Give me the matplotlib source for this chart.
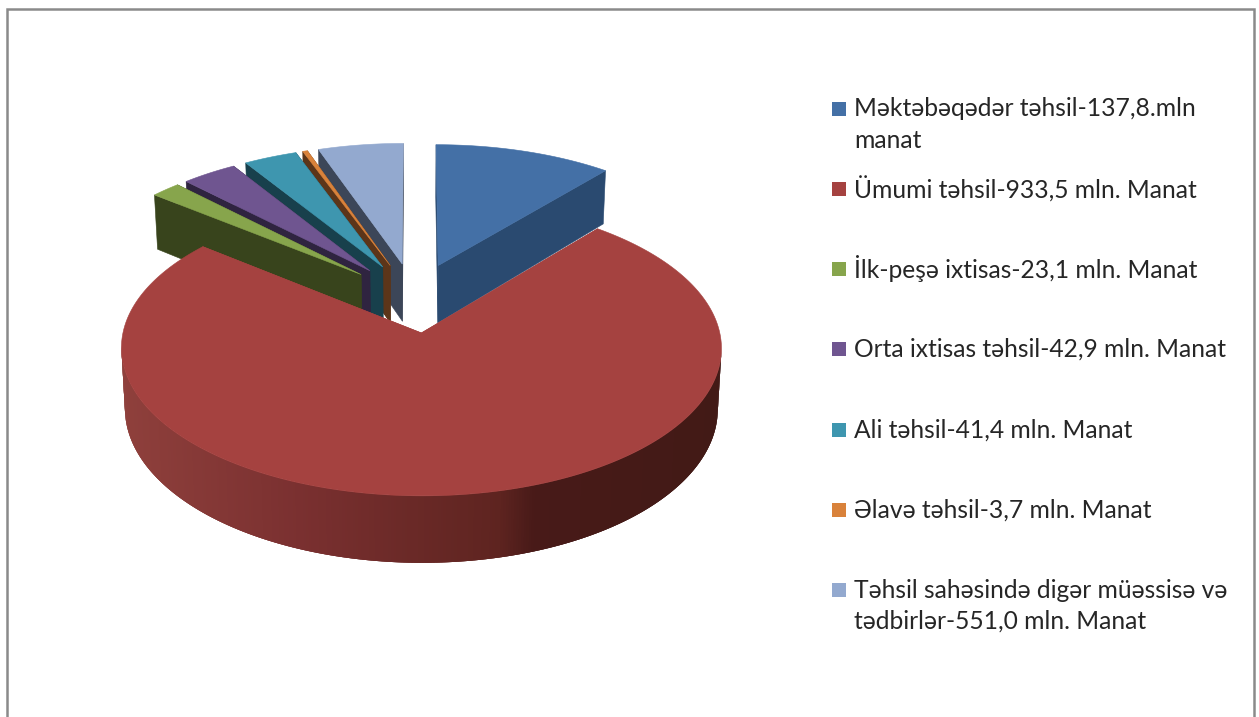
import numpy as np
import matplotlib
matplotlib.use('Agg')
import matplotlib.pyplot as plt
from matplotlib.patches import Polygon, Rectangle

plt.rcParams['font.family'] = ['Lato', 'Noto Sans', 'DejaVu Sans']

# values of the slices (the last one is drawn as the picture shows it)
values = [137.8, 933.5, 23.1, 42.9, 41.4, 3.7, 66.0]
top_colors = ['#4470A6', '#A54240', '#87A54C', '#6F5590', '#3E96AF', '#D9823B', '#93A9CF']
side_colors = ['#2A4A70', '#A54240', '#38441C', '#2F2440', '#18404C', '#5C3519', '#3C4658']

legend_rows = [
    ['Məktəbəqədər təhsil-137,8.mln', 'manat'],
    ['Ümumi təhsil-933,5 mln. Manat'],
    ['İlk-peşə ixtisas-23,1 mln. Manat'],
    ['Orta ixtisas təhsil-42,9 mln. Manat'],
    ['Ali təhsil-41,4 mln. Manat'],
    ['Əlavə təhsil-3,7 mln. Manat'],
    ['Təhsil sahəsində digər müəssisə və', 'tədbirlər-551,0 mln. Manat'],
]
legend_y = [109, 189, 269, 349, 430, 510, 590]

# wall shading of the big slice, by screen x
wall_x = [120, 300, 500, 535, 722]
wall_r = [0x8F, 0x7A, 0x5E, 0x48, 0x42]
wall_g = [0x40, 0x30, 0x24, 0x1A, 0x1A]
wall_b = [0x3C, 0x30, 0x20, 0x18, 0x16]

# perspective set-up
X0, Y0 = 414, 297.5
SX, SY = 291, 139
PERSP = 0.1
EXPLODE = 0.25
DEPTH = 58.6
SHRINK = 0.988


def project(x, y):
    w = 1 + PERSP * y
    return X0 + SX * x / w, Y0 - SY * y / w


def drop(x, y):
    px, py = project(x, y)
    return X0 + (px - X0) * SHRINK, py + DEPTH / (1 + PERSP * y)


fig = plt.figure(figsize=(12.59, 7.17), dpi=100)
ax = fig.add_axes([0, 0, 1, 1])
ax.set_xlim(0, 1259)
ax.set_ylim(717, 0)
ax.axis('off')

# chart frame, open at the bottom
ax.plot([7, 7, 1254, 1254], [717, 9, 9, 717], color='#8A8A8A', lw=1.8, solid_joinstyle='miter')

total = sum(values)
edges = np.cumsum([0] + values) / total * 2 * np.pi
slices = []
for i in range(len(values)):
    mid = (edges[i] + edges[i + 1]) / 2
    slices.append((np.cos(mid), i, mid))

# far slices first
for _, i, mid in sorted(slices, reverse=True):
    ox, oy = EXPLODE * np.sin(mid), EXPLODE * np.cos(mid)
    t = np.linspace(edges[i], edges[i + 1], max(4, int((edges[i + 1] - edges[i]) * 120)))
    xs = ox + np.sin(t)
    ys = oy + np.cos(t)
    arc = [project(a, b) for a, b in zip(xs, ys)]
    arc_low = [drop(a, b) for a, b in zip(xs, ys)]
    apex, apex_low = project(ox, oy), drop(ox, oy)

    # cut faces, the farther edge first
    ends = sorted([0, -1], key=lambda k: -ys[k])
    for k in ends:
        ax.add_patch(Polygon([apex, arc[k], arc_low[k], apex_low], fc=side_colors[i], ec=side_colors[i], lw=0.4))

    # outer wall, only the part that faces the viewer; each piece overlaps the next so no seams show
    for k in range(len(t) - 1):
        if arc[k + 1][0] < arc[k][0]:
            mx = (arc[k][0] + arc[k + 1][0]) / 2
            if i == 1:
                col = (np.interp(mx, wall_x, wall_r) / 255, np.interp(mx, wall_x, wall_g) / 255,
                       np.interp(mx, wall_x, wall_b) / 255)
            else:
                col = side_colors[i]
            n = min(k + 3, len(t) - 1)
            ax.add_patch(Polygon([arc[k], arc[n], arc_low[n], arc_low[k]], fc=col, ec='none'))

    ax.add_patch(Polygon([apex] + arc, fc=top_colors[i], ec=top_colors[i], lw=0.4))

# legend
fs = 17.7
for row, y, col in zip(legend_rows, legend_y, top_colors):
    ax.add_patch(Rectangle((832, y - 7), 14, 14, fc=col, ec='none'))
    for n, line in enumerate(row):
        ax.text(854, y + n * 31, line, fontsize=fs, color='#262626', va='center', ha='left')

fig.savefig('out.png', dpi=100)
